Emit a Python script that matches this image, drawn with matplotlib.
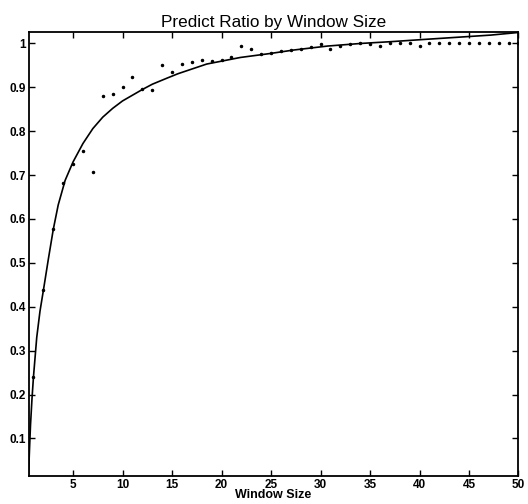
import matplotlib
matplotlib.use("Agg")
import matplotlib.pyplot as plt

plt.rcParams['font.family'] = ['Liberation Sans', 'DejaVu Sans']

# measured points (window size -> predict ratio)
window = list(range(1, 51))
ratio = [0.240, 0.438, 0.578, 0.682, 0.725, 0.756, 0.708, 0.881, 0.885, 0.901,
         0.923, 0.897, 0.894, 0.951, 0.935, 0.954, 0.958, 0.963, 0.960, 0.963,
         0.968, 0.995, 0.988, 0.976, 0.979, 0.982, 0.985, 0.988, 0.991, 0.998,
         0.988, 0.995, 0.998, 1.000, 0.999, 0.994, 1.000, 1.000, 1.000, 0.994,
         1.000, 1.000, 1.000, 1.000, 1.000, 1.000, 1.000, 1.000, 1.000, 1.000]

# fitted curve
curve_x = [0.5, 0.6, 0.7, 0.85, 1.0, 1.33, 1.66, 2.0, 2.5, 3.0, 3.5, 4.2, 5.0,
           6.0, 7.0, 8.0, 9.0, 10, 11, 12, 13, 14.5, 15.6, 18.5, 21.9, 24.9,
           27.3, 30.7, 34.1, 37.1, 40.4, 43.8, 47.2, 50]
curve_y = [0.0144, 0.075, 0.13, 0.19, 0.24, 0.33, 0.39, 0.437, 0.508, 0.576,
           0.632, 0.688, 0.730, 0.772, 0.806, 0.832, 0.852, 0.869, 0.882, 0.895,
           0.907, 0.921, 0.931, 0.953, 0.968, 0.977, 0.985, 0.994, 1.000, 1.004,
           1.009, 1.014, 1.019, 1.025]

xticks = [5, 10, 15, 20, 25, 30, 35, 40, 45, 50]
yticks = [0.1, 0.2, 0.3, 0.4, 0.5, 0.6, 0.7, 0.8, 0.9, 1]
ytick_labels = ['0.1', '0.2', '0.3', '0.4', '0.5', '0.6', '0.7', '0.8', '0.9', '1']

fig = plt.figure(figsize=(5.28, 5.04), dpi=100)
ax = fig.add_axes([0.054, 0.0556, 0.928, 0.880])

ax.plot(window, ratio, '.', color='black', markersize=3)
ax.plot(curve_x, curve_y, '-', color='black', linewidth=1.2)

ax.set_xlim(0.5, 50)
ax.set_ylim(0.0144, 1.025)
ax.set_xticks(xticks)
ax.set_xticklabels([str(t) for t in xticks], fontweight='bold', fontsize=8.5)
ax.set_yticks(yticks)
ax.set_yticklabels(ytick_labels, fontweight='bold', fontsize=8.5)
ax.tick_params(direction='in', length=4, width=1, top=True, right=True, pad=2)
for s in ax.spines.values():
    s.set_linewidth(1.3)

ax.set_title("Predict Ratio by Window Size", fontsize=12.3, pad=4)
ax.set_xlabel("Window Size", fontweight='bold', fontsize=9, labelpad=-1)

fig.savefig("out.png", dpi=100)
